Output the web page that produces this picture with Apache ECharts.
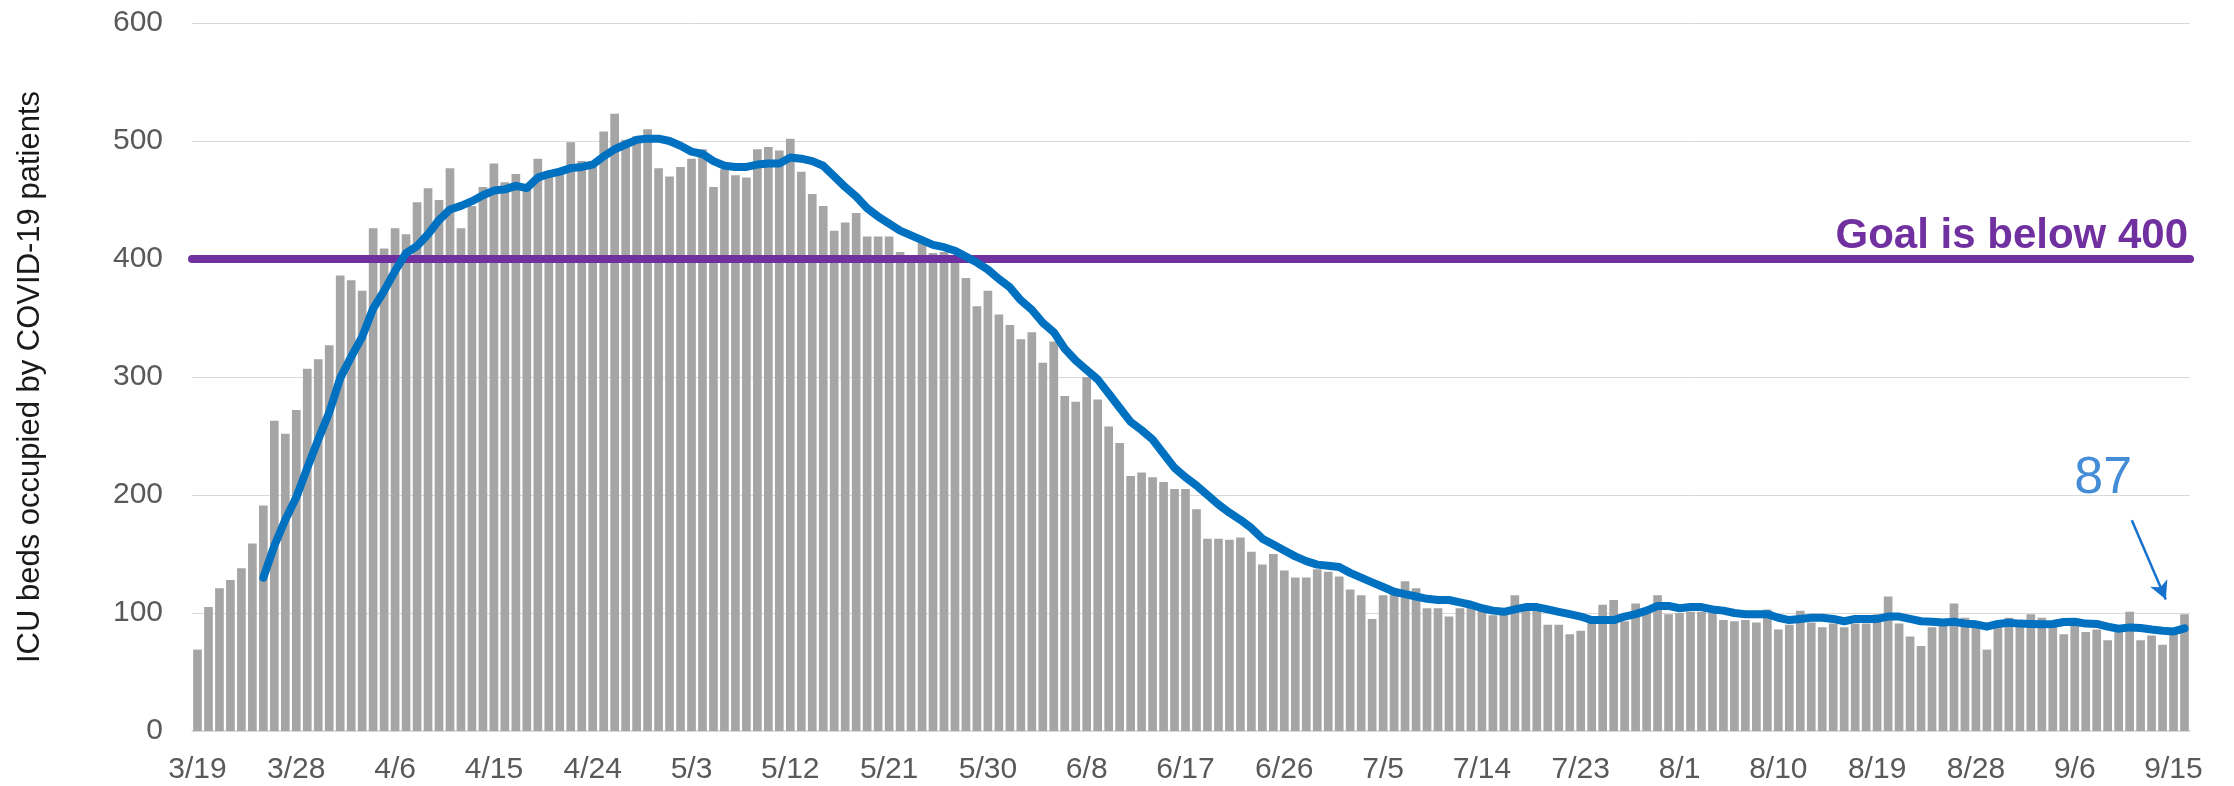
<!DOCTYPE html>
<html>
<head>
<meta charset="utf-8">
<title>ICU beds occupied by COVID-19 patients</title>
<script src="https://cdn.jsdelivr.net/npm/echarts@6.0.0/dist/echarts.min.js"></script>
<style>
  html, body { margin: 0; padding: 0; background: #ffffff; }
  #chart { width: 2234px; height: 786px; }
</style>
</head>
<body>
<div id="chart"></div>
<script>
// daily dates 3/19 .. 9/16
const startDate = Date.UTC(2020, 2, 19)
const dayCount = 182
const dates = []
for (let i = 0; i < dayCount; i++) {
  const d = new Date(startDate + i * 86400000)
  dates.push((d.getUTCMonth() + 1) + '/' + d.getUTCDate())
}

// daily ICU beds occupied (bars)
const icuBeds = [
  69, 105, 121, 128, 138, 159, 191, 263, 252, 272,
  307, 315, 327, 386, 382, 373, 426, 409, 426, 421,
  448, 460, 450, 477, 426, 445, 461, 481, 465, 472,
  460, 485, 470, 473, 499, 483, 483, 508, 523, 501,
  504, 510, 477, 470, 478, 485, 493, 461, 476, 471,
  469, 493, 495, 492, 502, 474, 455, 445, 424, 431,
  439, 419, 419, 419, 406, 401, 414, 405, 406, 400,
  384, 360, 373, 353, 344, 332, 338, 312, 330, 284,
  279, 300, 281, 258, 244, 216, 219, 215, 211, 205,
  205, 188, 163, 163, 162, 164, 152, 141, 150, 136,
  130, 130, 137, 135, 131, 120, 115, 95, 115, 118,
  127, 121, 104, 104, 97, 104, 106, 103, 98, 100,
  115, 103, 107, 90, 90, 82, 85, 93, 107, 111,
  93, 108, 100, 115, 99, 100, 101, 101, 100, 94,
  93, 94, 92, 103, 86, 90, 102, 92, 88, 91,
  88, 91, 91, 99, 114, 91, 80, 72, 88, 90,
  108, 96, 90, 69, 90, 96, 93, 99, 96, 91,
  82, 90, 84, 86, 77, 84, 101, 77, 81, 73,
  84, 99
]

// 7-day average line, starts on 3/25
const avgStart = 6
const avgBeds = [
  130, 157, 179, 198, 223, 247, 270, 299, 317, 334,
  358, 373, 390, 405, 411, 421, 433, 442, 445, 449,
  454, 458, 459, 462, 460, 469, 472, 474, 477, 478,
  480, 487, 493, 497, 501, 502, 502, 500, 496, 491,
  489, 483, 479, 478, 478, 480, 481, 481, 486, 485,
  483, 479, 470, 461, 453, 443, 436, 430, 424, 420,
  416, 412, 410, 407, 402, 397, 391, 383, 376, 365,
  357, 346, 338, 324, 314, 306, 298, 286, 274, 262,
  255, 247, 235, 223, 215, 208, 200, 192, 185, 179,
  172, 163, 158, 153, 148, 144, 141, 140, 139, 134,
  130, 126, 122, 118, 116, 114, 112, 111, 111, 109,
  107, 104, 102, 101, 103, 105, 105, 103, 101, 99,
  97, 94, 94, 94, 97, 99, 102, 106, 106, 104,
  105, 105, 103, 102, 100, 99, 99, 99, 96, 94,
  95, 96, 96, 95, 93, 95, 95, 95, 97, 97,
  95, 93, 92.6, 92, 92.6, 91, 90.4, 88.4, 90.7, 91.8,
  91, 90.7, 90.4, 90.7, 92.4, 92.6, 91, 90.7, 88.4, 86.7,
  87.8, 87.3, 86, 85, 84.4, 87
]

const goalValue = 400
const goalLabel = 'Goal is below 400'
const yTicks = { min: 0, max: 600, interval: 100 }

// "87" callout, in (day index, value) units
const calloutText = '87'
const calloutPos = [173.6, 214]
const arrowFrom = [176.2, 178.6]
const arrowTo = [179.3, 111.4]

const font = "'Liberation Sans', Arial, sans-serif"
const calloutBlue = '#1772cd'

const lineData = dates.map((_, i) => {
  const v = avgBeds[i - avgStart]
  return v === undefined ? '-' : v
})

const chart = echarts.init(document.getElementById('chart'))

const option = {
  animation: false,
  backgroundColor: '#ffffff',
  textStyle: { fontFamily: font },
  grid: {
    left: 192,
    right: 44,
    top: 23,
    bottom: 55
  },
  xAxis: [
    {
      type: 'category',
      data: dates,
      axisTick: { show: false },
      axisLine: { lineStyle: { color: '#d9d9d9', width: 1.5 } },
      axisLabel: {
        interval: 8,
        color: '#595959',
        fontSize: 30,
        fontFamily: font,
        margin: 24
      }
    },
    {
      type: 'value',
      min: -0.5,
      max: dayCount - 0.5,
      show: false
    }
  ],
  yAxis: {
    type: 'value',
    min: yTicks.min,
    max: yTicks.max,
    interval: yTicks.interval,
    name: 'ICU beds occupied by COVID-19 patients',
    nameLocation: 'middle',
    nameRotate: 90,
    nameGap: 146,
    nameTextStyle: { color: '#1a1a1a', fontSize: 31, fontFamily: font },
    axisLine: { show: false },
    axisTick: { show: false },
    axisLabel: { color: '#595959', fontSize: 30, fontFamily: font, margin: 29 },
    splitLine: { lineStyle: { color: '#d9d9d9', width: 1 } }
  },
  series: [
    {
      name: 'ICU beds',
      type: 'bar',
      data: icuBeds,
      barCategoryGap: '21%',
      itemStyle: { color: '#a5a5a5' },
      z: 2,
      markLine: {
        silent: true,
        symbol: ['none', 'none'],
        z: 4,
        lineStyle: { color: '#7030a0', width: 8, type: 'solid', cap: 'round' },
        label: {
          show: true,
          position: 'insideEndTop',
          formatter: goalLabel,
          color: '#7030a0',
          fontSize: 42,
          fontWeight: 'bold',
          fontFamily: font,
          distance: 2
        },
        data: [{ yAxis: goalValue }]
      }
    },
    {
      name: '7-day average',
      type: 'line',
      data: lineData,
      symbol: 'none',
      smooth: false,
      z: 6,
      lineStyle: { color: '#0070c0', width: 8, cap: 'round', join: 'round' }
    },
    {
      name: 'callout',
      type: 'scatter',
      xAxisIndex: 1,
      symbolSize: 0,
      z: 7,
      data: [calloutPos],
      label: {
        show: true,
        position: 'inside',
        formatter: calloutText,
        color: calloutBlue,
        fontSize: 52,
        fontFamily: font
      },
      markLine: {
        silent: true,
        z: 7,
        symbol: ['none', 'arrow'],
        symbolSize: [14, 18],
        lineStyle: { color: calloutBlue, width: 2.5, type: 'solid' },
        label: { show: false },
        data: [[{ coord: arrowFrom }, { coord: arrowTo }]]
      }
    }
  ]
}

chart.setOption(option)
window.addEventListener('resize', () => {
  chart && chart.resize()
})
</script>
</body>
</html>
